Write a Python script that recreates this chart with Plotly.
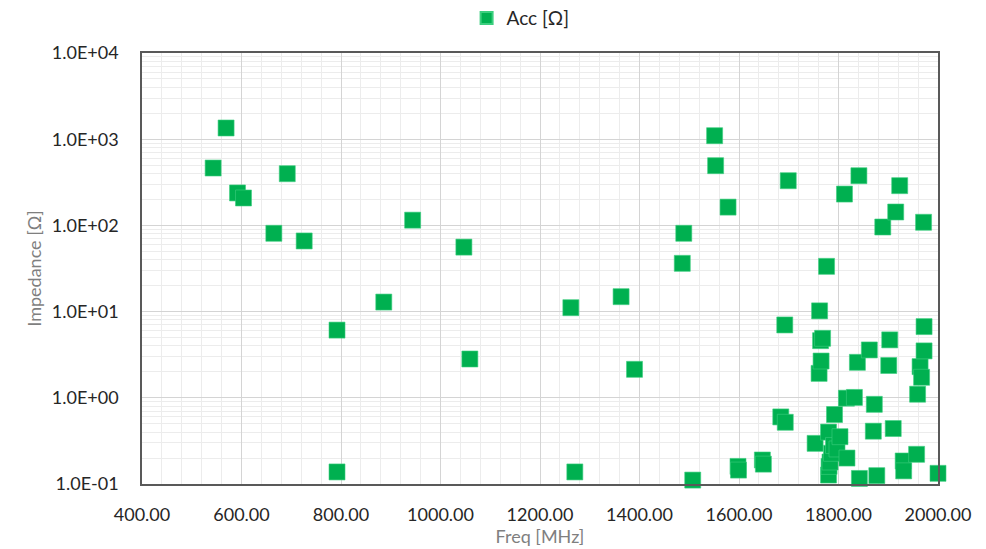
import plotly.graph_objects as go

# Measured impedance vs. frequency
freq_mhz = [
    543, 569, 592, 604, 665, 692, 726, 792, 792, 886, 944, 1047, 1059,
    1262, 1270, 1363, 1390, 1486, 1489, 1507, 1551, 1553, 1578, 1598, 1599,
    1647, 1649, 1684, 1692, 1693, 1699, 1753, 1761, 1762, 1764, 1765, 1768,
    1776, 1780, 1780, 1781, 1783, 1786, 1790, 1792, 1797, 1803, 1812, 1816,
    1817, 1832, 1838, 1841, 1842, 1862, 1870, 1872, 1877, 1889, 1901, 1903,
    1910, 1915, 1923, 1930, 1931, 1957, 1959, 1964, 1967, 1971, 1972, 1972,
    2000,
]
impedance_ohm = [
    463, 1349, 238, 208, 81, 398, 66, 6.1, 0.138, 12.9, 115, 56, 2.82,
    11.1, 0.138, 14.9, 2.14, 36.3, 81, 0.111, 1098, 493, 163, 0.16, 0.145,
    0.19, 0.17, 0.60, 7.0, 0.52, 330, 0.296, 1.92, 10.2, 4.6, 2.67, 4.9,
    33.5, 0.127, 0.40, 0.16, 0.18, 0.227, 0.28, 0.64, 0.255, 0.354, 231, 0.99,
    0.20, 1.01, 2.58, 377, 0.116, 3.59, 0.41, 0.84, 0.125, 95.8, 2.37, 4.7,
    0.44, 143, 289, 0.185, 0.142, 0.221, 1.1, 2.3, 1.73, 108.7, 6.7, 3.5,
    0.133,
]

series_name = "Acc [Ω]"
x_title = "Freq [MHz]"
y_title = "Impedance [Ω]"

x_tick_vals = [400, 600, 800, 1000, 1200, 1400, 1600, 1800, 2000]
x_tick_text = ["400.00", "600.00", "800.00", "1000.00", "1200.00",
               "1400.00", "1600.00", "1800.00", "2000.00"]
y_tick_vals = [0.1, 1, 10, 100, 1000, 10000]
y_tick_text = ["1.0E-01", "1.0E+00", "1.0E+01", "1.0E+02", "1.0E+03", "1.0E+04"]

GREEN = "#00B050"
FONT = "Lato"

fig = go.Figure()
fig.add_trace(go.Scatter(
    x=freq_mhz,
    y=impedance_ohm,
    mode="markers",
    name=series_name,
    marker=dict(symbol="square", size=16, color=GREEN,
                line=dict(width=0.6, color="#3ccf7f")),
    cliponaxis=False,
))

fig.update_layout(
    width=986,
    height=549,
    paper_bgcolor="white",
    plot_bgcolor="white",
    margin=dict(l=142, r=48, t=53, b=65, autoexpand=False),
    font=dict(family=FONT, size=18, color="#404040"),
    showlegend=True,
    legend=dict(
        orientation="h",
        x=0.528, xanchor="center", xref="container",
        y=0.967, yanchor="middle", yref="container",
        font=dict(family=FONT, size=19, color="#262626"),
        itemsizing="constant",
        itemwidth=30,
    ),
)

fig.update_xaxes(
    range=[400, 2000],
    tickvals=x_tick_vals,
    ticktext=x_tick_text,
    ticks="",
    ticklabelstandoff=14,
    tickfont=dict(family=FONT, size=18, color="#262626"),
    showgrid=True,
    gridcolor="#d4d4d4",
    gridwidth=1.3,
    minor=dict(dtick=40, tick0=400, showgrid=True,
               gridcolor="#ececec", gridwidth=1.3),
    showline=True, linecolor="#595959", linewidth=1.5, mirror=True,
    zeroline=False,
    title=dict(text=x_title, font=dict(family=FONT, size=18, color="#7f7f7f"),
               standoff=4),
)

fig.update_yaxes(
    type="log",
    range=[-1, 4],
    tickvals=y_tick_vals,
    ticktext=y_tick_text,
    ticks="",
    ticklabelstandoff=18,
    tickfont=dict(family=FONT, size=18, color="#262626"),
    showgrid=True,
    gridcolor="#d4d4d4",
    gridwidth=1.3,
    minor=dict(dtick="D1", showgrid=True,
               gridcolor="#ececec", gridwidth=1.3),
    showline=True, linecolor="#595959", linewidth=1.5, mirror=True,
    zeroline=False,
    title=dict(text=y_title, font=dict(family=FONT, size=18, color="#7f7f7f"),
               standoff=6),
)

fig.write_html("out.html")
